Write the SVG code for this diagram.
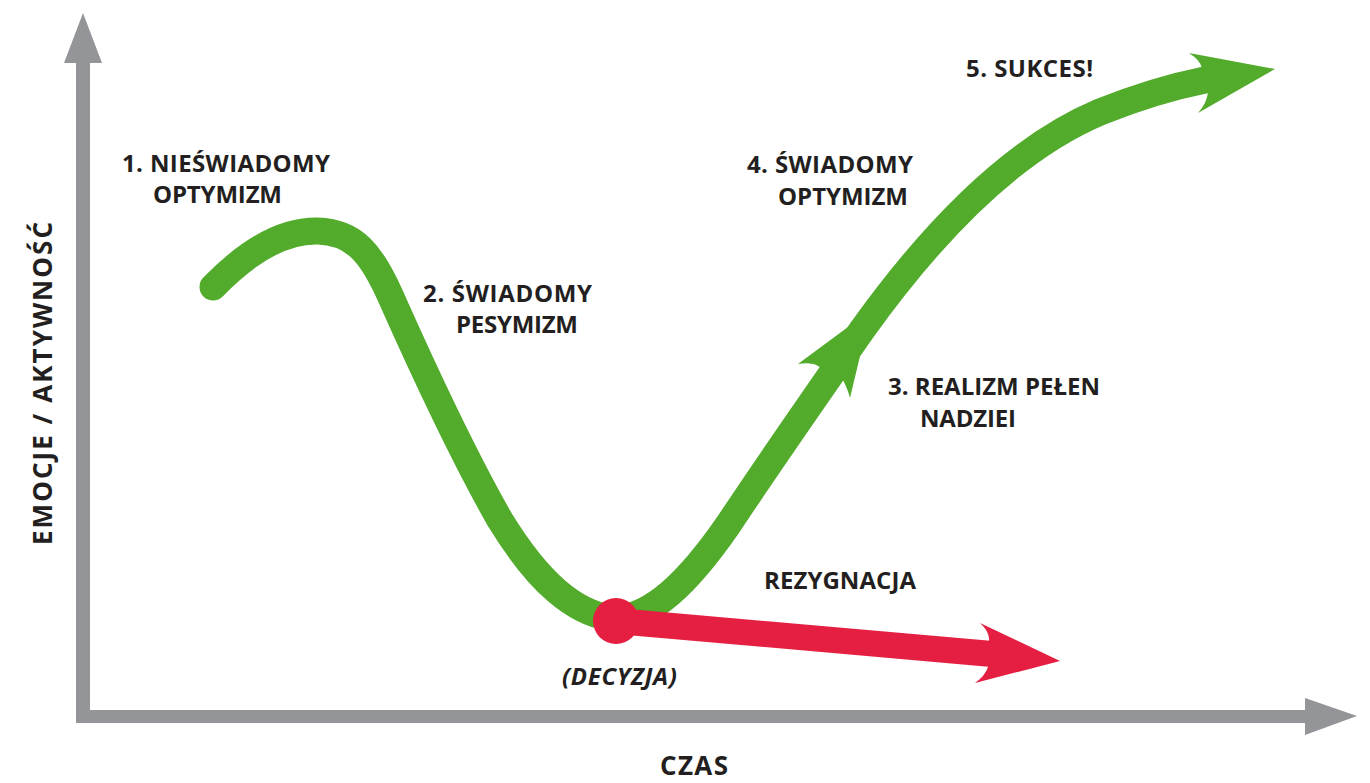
<svg xmlns="http://www.w3.org/2000/svg" width="1370" height="783" viewBox="0 0 1370 783">
<style>
.lbl{font-family:"Open Sans","Liberation Sans",sans-serif;font-weight:700;font-size:24px;fill:#231f20}
.it{font-style:italic}
.big{font-size:26px}
.axis{fill:#939598}
.green{fill:none;stroke:#52ab2b;stroke-width:27;stroke-linecap:round;stroke-linejoin:round}
.ghead{fill:#52ab2b}
.red{fill:#e51f41}
.redline{stroke:#e51f41;stroke-width:26;fill:none}
</style>
<rect width="1370" height="783" fill="#fff"/>
<g id="axes">
  <rect class="axis" x="76" y="60" width="14" height="663"/>
  <polygon class="axis" points="83,13 64,63 102,63"/>
  <rect class="axis" x="76" y="710" width="1232" height="13"/>
  <polygon class="axis" points="1357,716 1305,698 1305,735"/>
</g>
<g id="connectors">
  <path class="green" d="M213,287 C245,254 280,230 318,231 C355,232 372,255 390,295 C410,340 460,450 500,520 C540,585 575,612 610,618 C650,622 690,580 728,525 C778,450 820,390 862,330 C930,235 1010,150 1100,112 C1140,96 1175,86 1205,80"/>
  <path class="ghead" d="M871,310 L798,364 Q812,362 818,366 L843,380 Q848,390 850,398 Z"/>
  <path class="ghead" d="M1275,69 L1189,53 Q1200,60 1202,68 L1208,92 Q1207,103 1198,113 Z"/>
  <line class="redline" x1="616" y1="621" x2="992" y2="654"/>
  <path class="red" d="M1060,661 L980,623 Q990,632 989,641 L988,667 Q985,676 975,683 Z"/>
</g>
<g id="decision">
  <circle class="red" cx="616" cy="621" r="23"/>
  <text class="lbl it" x="562" y="685" textLength="115" lengthAdjust="spacing">(DECYZJA)</text>
</g>
<g id="stage1">
  <text class="lbl" x="122" y="172" textLength="208" lengthAdjust="spacing">1. NIEŚWIADOMY</text>
  <text class="lbl" x="153" y="203" textLength="129" lengthAdjust="spacing">OPTYMIZM</text>
</g>
<g id="stage2">
  <text class="lbl" x="423" y="302" textLength="169" lengthAdjust="spacing">2. ŚWIADOMY</text>
  <text class="lbl" x="456" y="333" textLength="122" lengthAdjust="spacing">PESYMIZM</text>
</g>
<g id="stage3">
  <text class="lbl" x="888" y="395" textLength="212" lengthAdjust="spacing">3. REALIZM PEŁEN</text>
  <text class="lbl" x="920" y="427" textLength="96" lengthAdjust="spacing">NADZIEI</text>
</g>
<g id="stage4">
  <text class="lbl" x="747" y="173" textLength="166" lengthAdjust="spacing">4. ŚWIADOMY</text>
  <text class="lbl" x="778" y="205" textLength="130" lengthAdjust="spacing">OPTYMIZM</text>
</g>
<g id="stage5">
  <text class="lbl" x="966" y="77" textLength="127" lengthAdjust="spacing">5. SUKCES!</text>
</g>
<g id="resignation">
  <text class="lbl" x="764" y="589" textLength="152" lengthAdjust="spacing">REZYGNACJA</text>
</g>
<g id="xlabel">
  <text class="lbl big" x="660" y="775" textLength="68" lengthAdjust="spacing">CZAS</text>
</g>
<g id="ylabel">
  <text class="lbl big" transform="translate(52,545) rotate(-90)" x="0" y="0" textLength="323" lengthAdjust="spacing">EMOCJE / AKTYWNOŚĆ</text>
</g>
</svg>
